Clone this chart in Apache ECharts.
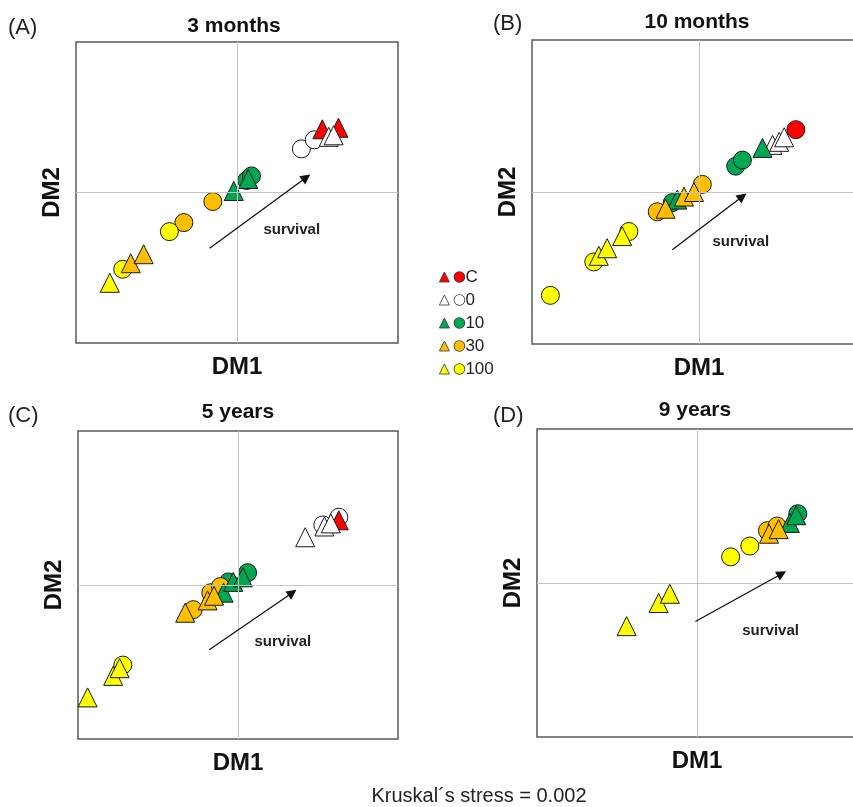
<!DOCTYPE html>
<html>
<head>
<meta charset="utf-8">
<script src="https://cdn.jsdelivr.net/npm/echarts@6/dist/echarts.min.js"></script>
<style>
  html, body { margin: 0; padding: 0; background: #fff; }
  #chart { width: 853px; height: 807px; }
</style>
</head>
<body>
<div id="chart"></div>
<script>
// treatment groups, in drawing order
const groups = ["C", "0", "10", "30", "100"];
const fills = { C: "#ff0000", "0": "#ffffff", "10": "#00a651", "30": "#ffbe00", "100": "#ffff00" };

// [group, shape (t = triangle, c = circle), DM1, DM2]
const pointsA = [
  ["100", "t", -0.79, -0.60], ["100", "c", -0.71, -0.51], ["30", "t", -0.66, -0.47],
  ["30", "t", -0.58, -0.41], ["100", "c", -0.42, -0.26], ["30", "c", -0.33, -0.20],
  ["30", "c", -0.15, -0.06], ["10", "t", -0.02, 0.01], ["10", "c", 0.06, 0.08],
  ["10", "c", 0.09, 0.11], ["10", "t", 0.07, 0.09], ["0", "c", 0.40, 0.29],
  ["0", "c", 0.48, 0.35], ["C", "t", 0.53, 0.42], ["0", "t", 0.57, 0.37],
  ["0", "t", 0.60, 0.38], ["C", "t", 0.63, 0.43],
];
const pointsB = [
  ["100", "c", -0.89, -0.68], ["100", "c", -0.63, -0.46], ["100", "t", -0.60, -0.42],
  ["100", "t", -0.55, -0.37], ["100", "c", -0.42, -0.26], ["100", "t", -0.46, -0.29],
  ["30", "c", -0.25, -0.13], ["30", "t", -0.20, -0.11], ["10", "c", -0.16, -0.07],
  ["10", "t", -0.13, -0.05], ["30", "t", -0.09, -0.03], ["30", "t", -0.03, 0.00],
  ["30", "c", 0.02, 0.05], ["10", "c", 0.22, 0.17], ["10", "c", 0.26, 0.21],
  ["10", "t", 0.38, 0.29], ["0", "t", 0.44, 0.31], ["0", "t", 0.48, 0.33],
  ["0", "t", 0.51, 0.36], ["C", "c", 0.58, 0.41],
];
const pointsC = [
  ["100", "t", -0.94, -0.73], ["100", "t", -0.78, -0.59], ["100", "t", -0.74, -0.54],
  ["100", "c", -0.72, -0.52], ["30", "t", -0.33, -0.18], ["30", "c", -0.28, -0.16],
  ["30", "c", -0.17, -0.05], ["30", "t", -0.19, -0.10], ["30", "t", -0.15, -0.07],
  ["30", "c", -0.11, -0.01], ["10", "t", -0.09, -0.05], ["10", "c", -0.06, 0.02],
  ["10", "t", -0.03, 0.02], ["10", "t", 0.03, 0.05], ["10", "c", 0.06, 0.08],
  ["0", "t", 0.42, 0.31], ["0", "c", 0.53, 0.39], ["0", "t", 0.54, 0.38],
  ["0", "t", 0.58, 0.40], ["0", "c", 0.63, 0.44], ["C", "t", 0.63, 0.42],
];
const pointsD = [
  ["100", "t", -0.44, -0.28], ["100", "t", -0.24, -0.13], ["100", "t", -0.17, -0.07],
  ["100", "c", 0.21, 0.17], ["100", "c", 0.33, 0.24], ["30", "c", 0.44, 0.34],
  ["30", "t", 0.45, 0.32], ["30", "c", 0.50, 0.37], ["30", "t", 0.51, 0.35],
  ["10", "t", 0.58, 0.39], ["10", "c", 0.63, 0.45], ["10", "t", 0.62, 0.44],
];

// "survival" arrows: [start, end], and label spot
const arrows = [
  [[-0.17, -0.37], [0.43, 0.10]],
  [[-0.16, -0.38], [0.26, -0.03]],
  [[-0.18, -0.42], [0.34, -0.05]],
  [[-0.01, -0.25], [0.53, 0.06]],
];
const arrowLabels = [[0.34, -0.25], [0.25, -0.33], [0.28, -0.37], [0.46, -0.31]];

const panelTitles = ["3 months", "10 months", "5 years", "9 years"];
const panelTags = ["(A)", "(B)", "(C)", "(D)"];

const FONT = "'Liberation Sans', Arial, sans-serif";

const panels = [
  { pts: pointsA, grid: { left: 76, top: 42, width: 322, height: 301 }, title: [234, 26], tag: [8, 28] },
  { pts: pointsB, grid: { left: 532, top: 40, width: 334, height: 304 }, title: [697, 22], tag: [493, 24] },
  { pts: pointsC, grid: { left: 78, top: 431, width: 320, height: 308 }, title: [238, 412], tag: [8, 416] },
  { pts: pointsD, grid: { left: 537, top: 429, width: 320, height: 308 }, title: [695, 410], tag: [493, 416] },
];

const grids = [], xAxes = [], yAxes = [], series = [], graphics = [];

panels.forEach((p, i) => {
  grids.push(Object.assign({
    show: true, borderColor: "#595959", borderWidth: 1.5, outerBoundsMode: "none",
  }, p.grid));
  const axisBase = {
    type: "value", gridIndex: i, min: -1, max: 1,
    axisLine: { show: false }, axisTick: { show: false },
    axisLabel: { show: false }, splitLine: { show: false },
    nameLocation: "middle",
    nameTextStyle: { fontFamily: FONT, fontSize: 24, fontWeight: "bold", color: "#111" },
  };
  xAxes.push(Object.assign({}, axisBase, { name: "DM1", nameGap: 12 }));
  yAxes.push(Object.assign({}, axisBase, { name: "DM2", nameGap: 12 }));

  // crosshair through the origin
  series.push({
    type: "scatter", name: "axes" + i, xAxisIndex: i, yAxisIndex: i, data: [], silent: true,
    markLine: {
      silent: true, symbol: ["none", "none"], label: { show: false },
      lineStyle: { color: "#c3c3c3", width: 1, type: "solid" },
      data: [{ xAxis: 0 }, { yAxis: 0 }],
    },
  });

  // survival arrow and label
  series.push({
    type: "scatter", name: "arrow" + i, xAxisIndex: i, yAxisIndex: i, data: [], silent: true,
    markLine: {
      silent: true, symbol: ["none", "triangle"], symbolSize: 10, label: { show: false },
      lineStyle: { color: "#111", width: 1.3, type: "solid" },
      itemStyle: { color: "#111" },
      data: [[{ coord: arrows[i][0] }, { coord: arrows[i][1] }]],
    },
    markPoint: {
      silent: true, symbol: "circle", symbolSize: 1, itemStyle: { color: "rgba(0,0,0,0)" },
      label: {
        show: true, position: "inside", formatter: "survival",
        fontFamily: FONT, fontSize: 15, fontWeight: "bold", color: "#222",
      },
      data: [{ coord: arrowLabels[i] }],
    },
  });

  // circles first, triangles on top
  ["c", "t"].forEach((shape) => {
    groups.forEach((g) => {
      series.push({
        type: "scatter", name: g, xAxisIndex: i, yAxisIndex: i,
        symbol: shape === "c" ? "circle" : "triangle",
        symbolSize: shape === "c" ? 18 : 19,
        itemStyle: { color: fills[g], borderColor: "#1a1a1a", borderWidth: 1, opacity: 1 },
        data: p.pts.filter((d) => d[0] === g && d[1] === shape).map((d) => [d[2], d[3]]),
      });
    });
  });

  graphics.push({
    type: "text", x: p.title[0], y: p.title[1],
    style: { text: panelTitles[i], font: "bold 21px " + FONT, fill: "#111", align: "center", verticalAlign: "middle" },
  });
  graphics.push({
    type: "text", x: p.tag[0], y: p.tag[1],
    style: { text: panelTags[i], font: "22px " + FONT, fill: "#222", align: "left", verticalAlign: "middle" },
  });
});

graphics.push({
  type: "text", x: 479, y: 796,
  style: { text: "Kruskal´s stress = 0.002", font: "20px " + FONT, fill: "#222", align: "center", verticalAlign: "middle" },
});

const rich = { t: { fontFamily: FONT, fontSize: 17, color: "#222", padding: [0, 0, 0, 1] } };
groups.forEach((g) => {
  rich["c" + g] = {
    width: 10, height: 10, borderRadius: 5,
    backgroundColor: fills[g], borderColor: "#333", borderWidth: 0.8,
  };
});

const chart = echarts.init(document.getElementById("chart"));
chart.setOption({
  animation: false,
  backgroundColor: "#fff",
  grid: grids,
  xAxis: xAxes,
  yAxis: yAxes,
  legend: {
    orient: "vertical", left: 434, top: 263,
    itemWidth: 10, itemHeight: 10, itemGap: 5,
    selectedMode: false,
    data: groups.map((g) => ({ name: g, icon: "triangle" })),
    itemStyle: { borderColor: "#333", borderWidth: 0.8 },
    formatter: (name) => "{c" + name + "| }{t|" + name + "}",
    textStyle: { fontFamily: FONT, fontSize: 17, color: "#222", lineHeight: 18, rich: rich },
  },
  graphic: graphics,
  series: series,
});
</script>
</body>
</html>
